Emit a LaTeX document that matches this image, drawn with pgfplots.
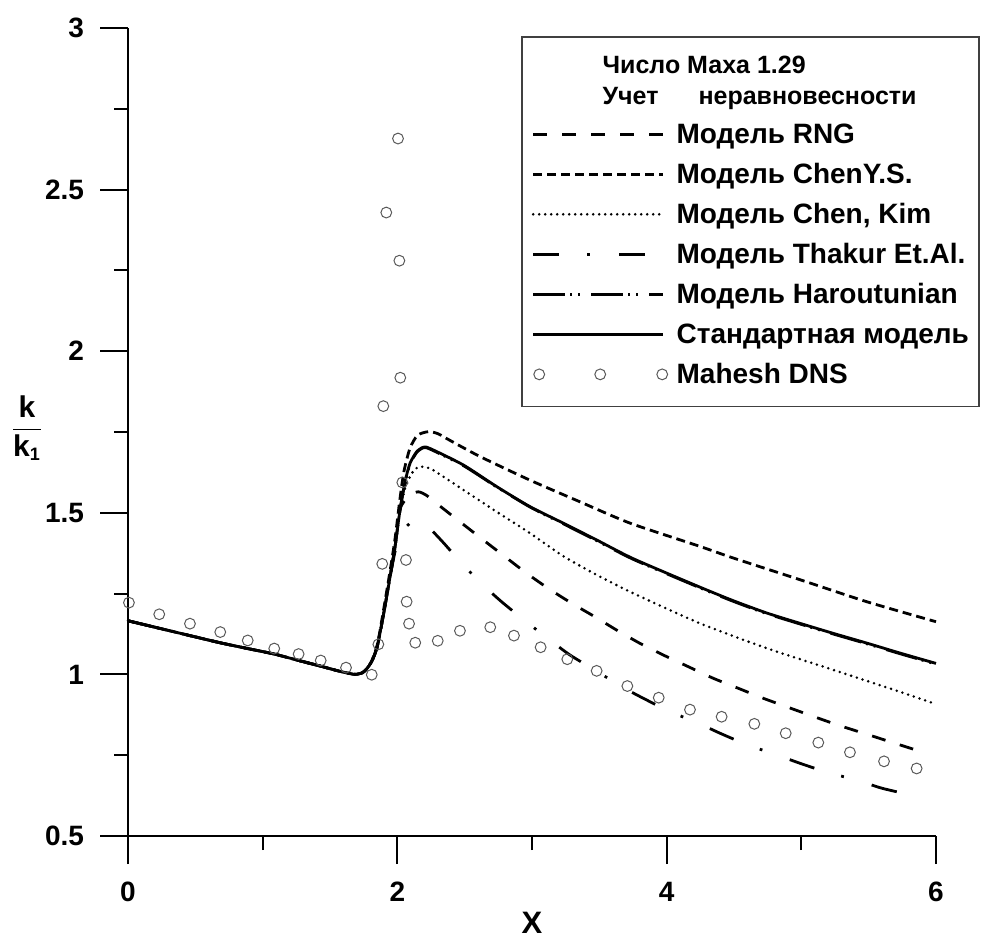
\documentclass[border=0pt]{standalone}
\usepackage{fontspec}
\setmainfont{Liberation Sans}
\usepackage{pgfplots}
\pgfplotsset{compat=1.18}
\usepackage{pgfplotstable}
\pgfplotsset{dnslegend/.style={legend image code/.code={\draw[mark repeat=1,##1] plot coordinates {(3pt,0pt) (33.5pt,0pt) (64.5pt,0pt)};}}}

\pgfplotstableread{
x y
0 1.166
0.23 1.143
0.46 1.120
0.683 1.098
0.9 1.079
1.086 1.063
1.25 1.045
1.426 1.026
1.55 1.012
1.62 1.005
1.686 1.000
1.74 1.005
1.772 1.017
1.81 1.040
1.847 1.080
1.871 1.127
1.908 1.210
1.946 1.302
1.983 1.395
2.02 1.509
2.05 1.535
2.09 1.555
2.156 1.565
2.22 1.553
2.322 1.519
2.478 1.468
2.638 1.416
2.8 1.364
2.96 1.313
3.121 1.266
3.295 1.220
3.468 1.178
3.629 1.137
3.802 1.096
3.975 1.060
4.16 1.024
4.346 0.988
4.532 0.957
4.718 0.926
4.903 0.898
5.089 0.870
5.274 0.843
5.485 0.815
5.671 0.790
5.92 0.757
}\dataRNG

\pgfplotstableread{
x y
0 1.166
0.23 1.143
0.46 1.120
0.683 1.098
0.9 1.079
1.086 1.063
1.25 1.045
1.426 1.026
1.55 1.012
1.62 1.005
1.686 1.000
1.74 1.005
1.772 1.017
1.81 1.042
1.847 1.085
1.871 1.135
1.908 1.225
1.946 1.320
1.983 1.420
2.02 1.545
2.05 1.630
2.094 1.700
2.15 1.740
2.23 1.751
2.3 1.745
2.391 1.724
2.614 1.674
2.985 1.601
3.356 1.534
3.728 1.468
4.247 1.396
4.495 1.360
4.99 1.293
5.485 1.225
6.0 1.163
}\dataChenYS

\pgfplotstableread{
x y
0 1.166
0.23 1.143
0.46 1.120
0.683 1.098
0.9 1.079
1.086 1.063
1.25 1.045
1.426 1.026
1.55 1.012
1.62 1.005
1.686 1.000
1.74 1.005
1.772 1.017
1.81 1.040
1.847 1.080
1.871 1.127
1.908 1.210
1.946 1.302
1.983 1.395
2.02 1.509
2.057 1.575
2.094 1.612
2.13 1.635
2.17 1.643
2.22 1.640
2.267 1.632
2.49 1.571
2.738 1.503
2.985 1.437
3.232 1.366
3.48 1.308
3.752 1.251
4.247 1.158
4.743 1.081
5.237 1.014
5.733 0.946
6.0 0.908
}\dataChenKim

\pgfplotstableread{
x y
0 1.166
0.23 1.143
0.46 1.120
0.683 1.098
0.9 1.079
1.086 1.063
1.25 1.045
1.426 1.026
1.55 1.012
1.62 1.005
1.686 1.000
1.74 1.005
1.772 1.017
1.81 1.040
1.847 1.080
1.871 1.127
1.908 1.210
1.946 1.302
1.983 1.380
2.02 1.430
2.062 1.455
2.12 1.476
2.18 1.473
2.218 1.462
2.341 1.408
2.49 1.338
2.651 1.271
2.782 1.222
2.96 1.162
3.134 1.106
3.282 1.060
3.48 1.010
3.666 0.962
3.827 0.926
4.025 0.885
4.235 0.849
4.396 0.818
4.6 0.782
4.817 0.751
4.99 0.725
5.2 0.696
5.411 0.673
5.597 0.648
5.812 0.627
}\dataThakur

\pgfplotstableread{
x y
0 1.166
0.23 1.143
0.46 1.120
0.683 1.098
0.9 1.079
1.086 1.063
1.25 1.045
1.426 1.026
1.55 1.012
1.62 1.005
1.686 1.000
1.74 1.005
1.772 1.017
1.81 1.040
1.847 1.080
1.871 1.127
1.908 1.210
1.946 1.302
1.983 1.395
2.02 1.509
2.057 1.594
2.094 1.650
2.144 1.687
2.193 1.701
2.243 1.697
2.49 1.646
2.738 1.580
2.985 1.518
3.232 1.466
3.48 1.414
3.752 1.356
4.247 1.268
4.495 1.226
4.743 1.188
4.99 1.156
5.237 1.125
5.485 1.095
5.733 1.064
6.0 1.032
}\dataHarout

\pgfplotstableread{
x y
0 1.166
0.23 1.143
0.46 1.120
0.683 1.098
0.9 1.079
1.086 1.063
1.25 1.045
1.426 1.026
1.55 1.012
1.62 1.005
1.686 1.000
1.74 1.005
1.772 1.017
1.81 1.040
1.847 1.080
1.871 1.127
1.908 1.210
1.946 1.302
1.983 1.395
2.02 1.509
2.057 1.596
2.094 1.653
2.144 1.689
2.193 1.703
2.243 1.699
2.49 1.648
2.738 1.581
2.985 1.519
3.232 1.468
3.48 1.416
3.752 1.358
4.247 1.270
4.495 1.228
4.743 1.190
4.99 1.158
5.237 1.127
5.485 1.097
5.733 1.066
6.0 1.034
}\dataStd

\pgfplotstableread{
x y
0.007 1.222
0.232 1.186
0.46 1.157
0.685 1.131
0.889 1.105
1.086 1.080
1.267 1.063
1.431 1.043
1.619 1.021
1.81 0.999
1.859 1.093
1.888 1.342
1.896 1.830
1.918 2.429
2.005 2.658
2.015 2.280
2.022 1.918
2.037 1.594
2.064 1.354
2.069 1.225
2.087 1.157
2.133 1.098
2.300 1.104
2.465 1.135
2.690 1.146
2.866 1.120
3.064 1.084
3.262 1.047
3.480 1.011
3.708 0.964
3.941 0.928
4.173 0.891
4.408 0.869
4.651 0.847
4.884 0.818
5.126 0.789
5.361 0.759
5.614 0.731
5.856 0.709
}\dataDNS

\begin{document}
\begin{tikzpicture}
\begin{axis}[
  name=ax,
  scale only axis, width=404pt, height=404pt,
  xmin=0, xmax=6, ymin=0.5, ymax=3,
  axis lines=left,
  axis line style={-, line width=1pt},
  xtick={0,2,4,6}, ytick={0.5,1,1.5,2,2.5,3},
  minor x tick num=1, minor y tick num=1,
  tick align=outside,
  major tick length=14pt, minor tick length=7pt,
  tick style={black, line width=1pt},
  xticklabel={\pgfmathprintnumber[assume math mode=true]{\tick}},
  yticklabel={\pgfmathprintnumber[assume math mode=true]{\tick}},
  tick label style={font=\bfseries\fontsize{14}{16}\selectfont},
  xticklabel style={yshift=-5.5pt},
  yticklabel style={xshift=-4.5pt},
  clip=false,
  xlabel={X},
  xlabel style={font=\bfseries\fontsize{15.5}{18}\selectfont, at={(axis description cs:0.5,-0.108)}, anchor=center},
  ylabel={$\displaystyle\frac{\textbf{k}}{\textbf{k}_{\mbox{\fontsize{9}{10}\selectfont\bfseries 1}}}$},
  ylabel style={rotate=-90, at={(axis description cs:-0.125,0.505)}, anchor=center, font=\bfseries\fontsize{15}{18}\selectfont},
  legend cell align=left,
  legend style={at={(0.4864,0.9900)}, anchor=north west,
    draw=black!75, line width=0.8pt,
    inner xsep=5pt, inner ysep=8.5pt,
    row sep=5pt, column sep=4.5pt,
    font=\bfseries\fontsize{14}{17}\selectfont,
    nodes={inner sep=0pt, text height=12pt, text depth=3pt}},
  legend image code/.code={\draw[#1] (0pt,0pt) -- (65pt,0pt);},
  every axis plot/.append style={line width=1.4pt, black},
]
\addplot[only marks, mark=o, mark size=2.7pt, draw=black!65, line width=0.5pt, forget plot] table {\dataDNS};

\addlegendimage{empty legend}
\addlegendentry[text height=25.5pt, text depth=2.25pt, font=\bfseries\fontsize{12.5}{15.5}\selectfont]{\hspace*{-37pt}\begin{tabular}[b]{@{}l@{}}Число Маха 1.29\\Учет\hspace{1.6em}неравновесности\end{tabular}}

\addplot[smooth, tension=0.4, dash pattern=on 7pt off 7.5pt] table {\dataRNG};
\addlegendentry{Модель RNG}
\addplot[smooth, tension=0.4, dash pattern=on 4.5pt off 2.5pt] table {\dataChenYS};
\addlegendentry{Модель ChenY.S.}
\addplot[smooth, tension=0.4, line cap=round, dash pattern=on 0pt off 3pt] table {\dataChenKim};
\addlegendentry{Модель Chen, Kim}
\addplot[smooth, tension=0.4, dash pattern=on 13pt off 14pt on 1.4pt off 14.5pt] table {\dataThakur};
\addlegendentry{Модель Thakur Et.Al.}
\addplot[smooth, tension=0.4, dash pattern=on 16pt off 2.5pt on 1pt off 3pt on 1pt off 5.5pt] table {\dataHarout};
\addlegendentry{Модель Haroutunian}
\addplot[smooth, tension=0.4] table {\dataStd};
\addlegendentry{Стандартная модель}
\addlegendimage{only marks, mark=o, mark size=2.7pt, draw=black!65, line width=0.5pt, dnslegend}
\addlegendentry{Mahesh DNS}
\end{axis}
\pgfresetboundingbox
\path ([shift={(-64pt,-52.5pt)}]ax.south west) rectangle ([shift={(22.5pt,14pt)}]ax.north east);
\end{tikzpicture}
\end{document}
